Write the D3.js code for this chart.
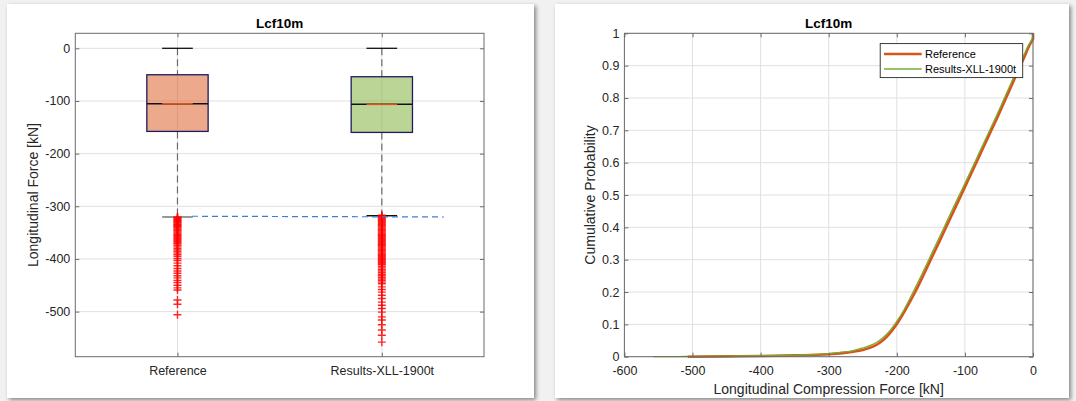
<!DOCTYPE html>
<html><head><meta charset="utf-8">
<script src="https://cdn.jsdelivr.net/npm/d3@7"></script>
<style>
body{margin:0;background:#f1f1f1;}
svg{display:block;font-family:"Liberation Sans",Arial,Helvetica,sans-serif;}
</style>
</head><body>
<svg id="c" width="1076" height="401"></svg>
<script>
// ---------- data ----------
const chartTitle = "Lcf10m";
const categories = ["Reference", "Results-XLL-1900t"];
const boxQ3 = [-50.2, -54];
const boxQ1 = [-157.8, -159.7];
const medians = [-105.2, -106.4];
const whiskerHi = [0, 0];
const whiskerLo = [-320.3, -317.9];
const refOutliers = [-320,-321.5,-323,-324.5,-326,-327.5,-329,-330.5,-332,-333.5,-335,-336.5,-338,-339.5,-341,-343,-345,-347,-349,-351,-353,-355,-357,-359,-361,-363,-365,-367,-369,-371,-374,-377,-380,-383,-386,-389,-392,-395,-399,-403,-408,-413,-418,-423,-427,-432,-436,-441,-445,-450,-455,-459,-478,-486,-506];
const resOutliers = [-317,-319,-321,-323,-325,-327,-329,-331,-333,-335,-337,-339,-341,-343,-345,-347,-349,-351,-353,-355,-357,-359,-361,-363,-365,-367,-369,-371,-373,-375,-377,-379,-381,-383,-385,-387,-389,-391,-393,-395,-397,-399,-401,-403,-405,-407,-409,-411,-414,-417,-420,-423,-426,-429,-432,-435,-438,-441,-444,-447,-453,-458,-463,-469,-475,-482,-488,-494,-501,-510,-516,-525,-535,-545,-558];
const limitLineX = [1.071, 2.304];
const limitLineY = [-318.9, -320.3];
const boxYTicks = [-500, -400, -300, -200, -100, 0];

const cdfSeries = ["Reference", "Results-XLL-1900t"];
const refCdfForce = [-507,-450,-400,-350,-300,-280,-264,-250,-235,-225,-216,-208,-201,-190,-173,-160,-148.6,-137,-126.6,-115,-104.7,-95,-85,-74,-63,-51,-39.6,-29,-20,-13,-7,-2,0,0];
const refCdfProb  = [0,0.001,0.002,0.004,0.0075,0.011,0.0155,0.021,0.031,0.043,0.059,0.078,0.098,0.135,0.2,0.256,0.307,0.358,0.405,0.457,0.503,0.547,0.592,0.642,0.692,0.746,0.8,0.85,0.893,0.925,0.955,0.975,0.982,1];
const resCdfForce = [-558,-520,-480,-450,-400,-350,-300,-280,-264,-250,-235,-225,-216,-208,-201,-190,-176,-163,-151.5,-140,-129.5,-118,-107.5,-97.5,-87.5,-76.5,-65.5,-53.5,-42,-31,-22,-14,-7,-2,0,0];
const resCdfProb  = [0,0.0005,0.0012,0.002,0.003,0.005,0.0095,0.014,0.019,0.027,0.038,0.051,0.067,0.086,0.106,0.143,0.2,0.256,0.307,0.358,0.405,0.457,0.503,0.547,0.592,0.642,0.692,0.746,0.8,0.852,0.895,0.93,0.962,0.98,0.99,1];
const cdfXTicks = [-600, -500, -400, -300, -200, -100, 0];
const cdfYTicks = [0, 0.1, 0.2, 0.3, 0.4, 0.5, 0.6, 0.7, 0.8, 0.9, 1];
const cdfXTickLabels = ["-600","-500","-400","-300","-200","-100","0"];
const cdfYTickLabels = ["0","0.1","0.2","0.3","0.4","0.5","0.6","0.7","0.8","0.9","1"];

// ---------- style ----------
const ORANGE = "#D95319", GREEN = "#77AC30";
const AXIS = "#6b6b6b", GRID = "#e0e0e0", TXT = "#262626";

const svg = d3.select("#c");
const defs = svg.append("defs");
const f = defs.append("filter").attr("id","sh").attr("x","-5%").attr("y","-5%").attr("width","110%").attr("height","110%");
f.append("feDropShadow").attr("dx",2).attr("dy",2).attr("stdDeviation",2).attr("flood-color","#000").attr("flood-opacity",0.45);

svg.append("rect").attr("x",7).attr("y",4).attr("width",527).attr("height",394).attr("fill","#fff").attr("filter","url(#sh)");
svg.append("rect").attr("x",555).attr("y",4).attr("width",514).attr("height",394).attr("fill","#fff").attr("filter","url(#sh)");

function styleAxis(g, fs){
  g.attr("font-size", null).attr("font-family", null);
  g.select(".domain").remove();
  g.selectAll(".tick line").attr("stroke", AXIS).attr("stroke-width",1);
  g.selectAll(".tick text").attr("fill", TXT).style("font-size", fs + "px");
}

function frame(x, y, xT, yT, xFmt, yFmt, fsX, fsY, padX) {
  const [x0, x1] = x.range(), [y0, y1] = y.range();
  const grid = svg.append("g");
  grid.selectAll(".gx").data(xT).join("line")
    .attr("x1", d => x(d)).attr("x2", d => x(d)).attr("y1", y1).attr("y2", y0)
    .attr("stroke", GRID).attr("stroke-width", 1);
  grid.selectAll(".gy").data(yT).join("line")
    .attr("x1", x0).attr("x2", x1).attr("y1", d => y(d)).attr("y2", d => y(d))
    .attr("stroke", GRID).attr("stroke-width", 1);
  return function axes(){
    const ab = svg.append("g").attr("transform", `translate(0,${y0})`)
      .call(d3.axisBottom(x).tickValues(xT).tickFormat(xFmt).tickSizeInner(-4).tickSizeOuter(0).tickPadding(padX));
    styleAxis(ab, fsX);
    const at = svg.append("g").attr("transform", `translate(0,${y1})`)
      .call(d3.axisTop(x).tickValues(xT).tickFormat("").tickSizeInner(-4).tickSizeOuter(0));
    styleAxis(at, fsX);
    const al = svg.append("g").attr("transform", `translate(${x0},0)`)
      .call(d3.axisLeft(y).tickValues(yT).tickFormat(yFmt).tickSizeInner(-4).tickSizeOuter(0).tickPadding(5));
    styleAxis(al, fsY);
    const ar = svg.append("g").attr("transform", `translate(${x1},0)`)
      .call(d3.axisRight(y).tickValues(yT).tickFormat("").tickSizeInner(-4).tickSizeOuter(0));
    styleAxis(ar, fsY);
    svg.append("rect").attr("x", x0).attr("y", y1).attr("width", x1 - x0).attr("height", y0 - y1)
      .attr("fill", "none").attr("stroke", AXIS).attr("stroke-width", 1);
  };
}

// ---------- left: box plot ----------
const xL = d3.scaleLinear().domain([0.5, 2.5]).range([75.3, 484]);
const yL = d3.scaleLinear().domain([-585.6, 28.5]).range([356.7, 33.3]);
const axesL = frame(xL, yL, [1, 2], boxYTicks, i => categories[i - 1], d => String(d), 12.5, 12.5, 9);

const boxFill = [ORANGE, GREEN];
const boxW = 0.3, capW = 0.15;
const boxes = categories.map((c, i) => ({i: i + 1, q3: boxQ3[i], q1: boxQ1[i], med: medians[i], hi: whiskerHi[i], lo: whiskerLo[i], fill: boxFill[i]}));
const gB = svg.append("g");
boxes.forEach(b => {
  gB.append("line").attr("x1", xL(b.i)).attr("x2", xL(b.i)).attr("y1", yL(b.hi)).attr("y2", yL(b.q3))
    .attr("stroke", "#555").attr("stroke-width", 1.2).attr("stroke-dasharray", "7,4").attr("opacity", 0.85);
  gB.append("line").attr("x1", xL(b.i)).attr("x2", xL(b.i)).attr("y1", yL(b.q1)).attr("y2", yL(b.lo))
    .attr("stroke", "#555").attr("stroke-width", 1.2).attr("stroke-dasharray", "7,4").attr("opacity", 0.85);
  gB.append("line").attr("x1", xL(b.i - capW / 2)).attr("x2", xL(b.i + capW / 2)).attr("y1", yL(b.hi)).attr("y2", yL(b.hi))
    .attr("stroke", "#111").attr("stroke-width", 1.3);
  gB.append("line").attr("x1", xL(b.i - capW / 2)).attr("x2", xL(b.i + capW / 2)).attr("y1", yL(b.lo)).attr("y2", yL(b.lo))
    .attr("stroke", b.i === 1 ? "#777" : "#111").attr("stroke-width", 1.5);
  gB.append("rect").attr("x", xL(b.i - boxW / 2)).attr("y", yL(b.q3))
    .attr("width", xL(b.i + boxW / 2) - xL(b.i - boxW / 2)).attr("height", yL(b.q1) - yL(b.q3))
    .attr("fill", b.fill).attr("fill-opacity", 0.5).attr("stroke", "#1c1c5e").attr("stroke-width", 1.3);
  gB.append("line").attr("x1", xL(b.i - boxW / 2)).attr("x2", xL(b.i + boxW / 2)).attr("y1", yL(b.med)).attr("y2", yL(b.med))
    .attr("stroke", "#111").attr("stroke-width", 1.5);
  gB.append("line").attr("x1", xL(b.i - capW / 2)).attr("x2", xL(b.i + capW / 2)).attr("y1", yL(b.med)).attr("y2", yL(b.med))
    .attr("stroke", ORANGE).attr("stroke-width", 1.5);
});
const plus = "M-4,0H4M0,-4V4";
[refOutliers, resOutliers].forEach((arr, k) => {
  gB.append("g").selectAll("path").data(arr).join("path")
    .attr("transform", d => `translate(${xL(k + 1)},${yL(d)})`)
    .attr("d", plus).attr("stroke", "#ff0000").attr("stroke-width", 1.4).attr("fill", "none").attr("opacity", 0.85);
});
gB.append("path").datum(d3.zip(limitLineX, limitLineY))
  .attr("d", d3.line().x(d => xL(d[0])).y(d => yL(d[1])))
  .attr("fill", "none").attr("stroke", "#3f7fcf").attr("stroke-width", 1.2).attr("stroke-dasharray", "6,4");
axesL();

svg.append("text").attr("x", 279.7).attr("y", 28).attr("text-anchor", "middle")
  .attr("font-weight", "bold").attr("font-size", 13.5).attr("fill", "#000").text(chartTitle);
svg.append("text").attr("transform", "translate(33.4,195) rotate(-90)").attr("text-anchor", "middle")
  .attr("dominant-baseline", "central").attr("font-size", 14).attr("fill", TXT).text("Longitudinal Force [kN]");

// ---------- right: CDF ----------
const xR = d3.scaleLinear().domain([-600, 0]).range([624.4, 1033]);
const yR = d3.scaleLinear().domain([0, 1]).range([356.7, 33.3]);
const axesR = frame(xR, yR, cdfXTicks, cdfYTicks,
  (d, i) => cdfXTickLabels[i], (d, i) => cdfYTickLabels[i], 12.5, 12.5, 9);

const smooth = d3.line().x(d => xR(d[0])).y(d => yR(d[1])).curve(d3.curveMonotoneX);
function cdfPath(pts) {
  // smooth through all but the final vertical jump, then a straight step to the last point
  const body = pts.slice(0, -1), last = pts[pts.length - 1];
  return smooth(body) + "L" + xR(last[0]) + "," + yR(last[1]);
}
svg.append("path").attr("d", cdfPath(d3.zip(refCdfForce, refCdfProb)))
  .attr("fill", "none").attr("stroke", ORANGE).attr("stroke-width", 2.6).attr("stroke-linejoin", "round");
svg.append("path").attr("d", cdfPath(d3.zip(resCdfForce, resCdfProb)))
  .attr("fill", "none").attr("stroke", GREEN).attr("stroke-width", 1.3).attr("stroke-linejoin", "round");
axesR();

const lg = svg.append("g");
lg.append("rect").attr("x", 880.2).attr("y", 43.6).attr("width", 142.5).attr("height", 34)
  .attr("fill", "#fff").attr("stroke", "#262626").attr("stroke-width", 0.9);
const legendItems = [{name: cdfSeries[0], color: ORANGE, w: 2.6, y: 54}, {name: cdfSeries[1], color: GREEN, w: 1.3, y: 69}];
legendItems.forEach(it => {
  lg.append("line").attr("x1", 884).attr("x2", 921.7).attr("y1", it.y).attr("y2", it.y)
    .attr("stroke", it.color).attr("stroke-width", it.w);
  lg.append("text").attr("x", 925).attr("y", it.y).attr("dominant-baseline", "central")
    .attr("font-size", 11).attr("fill", "#000").text(it.name);
});

svg.append("text").attr("x", 828.7).attr("y", 28).attr("text-anchor", "middle")
  .attr("font-weight", "bold").attr("font-size", 13.5).attr("fill", "#000").text(chartTitle);
svg.append("text").attr("transform", "translate(589.6,195) rotate(-90)").attr("text-anchor", "middle")
  .attr("dominant-baseline", "central").attr("font-size", 14).attr("fill", TXT).text("Cumulative Probability");
svg.append("text").attr("x", 828.7).attr("y", 388.5).attr("text-anchor", "middle")
  .attr("dominant-baseline", "central").attr("font-size", 14).attr("fill", TXT).text("Longitudinal Compression Force [kN]");
</script>
</body></html>
